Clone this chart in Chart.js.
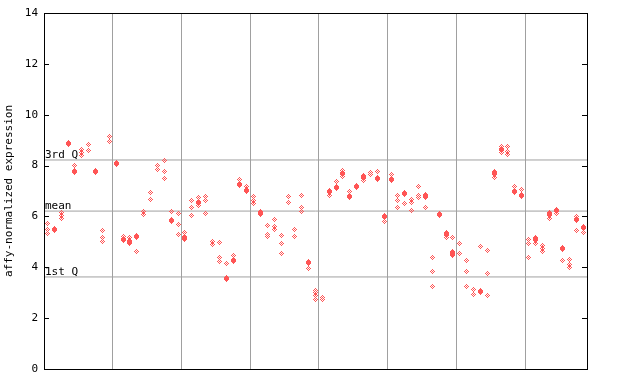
<!DOCTYPE html>
<html>
<head>
<meta charset="utf-8">
<script src="https://cdn.jsdelivr.net/npm/chart.js@4/dist/chart.umd.min.js"></script>
<style>
  body { margin: 0; background: #fff; }
</style>
</head>
<body>
<canvas id="chart" width="640" height="384"></canvas>
<script>
// one entry per sample column (79 columns, split in groups of ten)
const openValues = [
  [5.71, 5.48, 5.32], [], [6.16, 6.03, 5.90], [], [8.0], [8.65, 8.52, 8.39], [8.81, 8.60], [], [5.43, 5.16, 5.0], [9.15, 8.96],
  [], [5.2], [5.19, 4.95], [4.61], [6.21, 6.08], [6.95, 6.68], [8.02, 7.86], [8.18, 7.78, 7.51], [6.21], [6.1, 5.70, 5.27],
  [5.35, 5.11], [6.64, 6.34, 6.05], [6.73, 6.42], [6.78, 6.61, 6.1], [5.01, 4.88], [4.99, 4.38, 4.21], [4.13], [4.48], [7.47], [7.17],
  [6.78, 6.64, 6.51], [6.19], [5.64, 5.28, 5.2], [5.87, 5.59, 5.5], [5.24, 4.92, 4.53], [6.78, 6.55], [5.5, 5.2], [6.81, 6.37, 6.21], [3.96], [3.09, 2.99, 2.88, 2.72],
  [2.8, 2.75], [6.84], [7.39], [7.8, 7.57], [7.0], [], [7.62, 7.4], [7.71, 7.63], [7.76], [5.82],
  [7.63], [6.84, 6.63, 6.37], [6.5], [6.68, 6.53, 6.24], [7.16, 6.84, 6.74], [6.87, 6.37], [4.4, 3.85, 3.25], [], [5.35, 5.16], [5.19, 4.64, 4.45],
  [4.95, 4.56], [4.25, 3.85, 3.25], [3.14, 2.94], [4.8], [4.67, 3.77, 2.91], [7.78, 7.55], [8.75, 8.52], [8.75, 8.57, 8.44], [7.16], [7.05],
  [5.11, 4.93, 4.38], [5.16, 4.95], [4.85, 4.74, 4.64], [6.16, 5.9], [6.13], [4.25], [4.32, 4.09, 3.98], [5.98, 5.43], [5.35]
];
const filledValues = [
  null, 5.49, null, 8.86, 7.76, null, null, 7.76, null, null,
  8.08, 5.1, 5.02, 5.22, null, null, null, null, 5.85, null,
  5.19, null, 6.55, null, null, null, 3.56, 4.26, 7.26, 7.02,
  null, 6.1, null, null, null, null, null, null, 4.19, null,
  null, 6.97, 7.13, 7.7, 6.79, 7.18, 7.52, null, 7.5, 6.0,
  7.44, null, 6.89, null, null, 6.79, null, 6.08, 5.27, 4.56,
  null, null, null, 3.03, null, 7.68, 8.65, null, 6.97, 6.82,
  null, 5.08, null, 6.08, 6.24, 4.74, null, 5.87, 5.56
];
const groupEdges = [9.5, 19.5, 29.5, 39.5, 49.5, 59.5, 69.5];
const yTicks = [0, 2, 4, 6, 8, 10, 12, 14];
const quartileLabels = ['3rd Q', 'mean', '1st Q'];
const quartileValues = [8.22, 6.21, 3.62];

const red = 'rgb(255,85,85)';
const monoFont = { family: 'DejaVu Sans Mono', size: 11 };

function makeMarker(size, test) {
  const c = document.createElement('canvas');
  c.width = size; c.height = size;
  const g = c.getContext('2d');
  g.fillStyle = red;
  const h = (size - 1) / 2;
  for (let y = 0; y < size; y++) {
    for (let x = 0; x < size; x++) {
      if (test(x - h, y - h)) g.fillRect(x, y, 1, 1);
    }
  }
  return c;
}
const openMarker = makeMarker(5, (dx, dy) => Math.abs(dx) + Math.abs(dy) <= 2 && (dx + dy) % 2 === 0);
// 5 wide, 7 tall solid diamond
const filledMarker = makeMarker(7, (dx, dy) => {
  const ax = Math.abs(dx), ay = Math.abs(dy);
  return ax <= 2 && ay <= 3 && ax + ay <= 3;
});

const openPoints = [];
openValues.forEach((vals, i) => vals.forEach(v => openPoints.push({ x: i, y: v })));
const filledPoints = [];
filledValues.forEach((v, i) => { if (v !== null) filledPoints.push({ x: i, y: v }); });

const quartileSets = quartileValues.map(v => ({
  type: 'line',
  data: [{ x: -0.5, y: v }, { x: openValues.length - 0.5, y: v }],
  borderColor: '#a0a0a0',
  borderWidth: 1,
  pointRadius: 0,
  order: 3
}));

const framePlugin = {
  id: 'frame',
  beforeDraw(chart) {
    chart.ctx.imageSmoothingEnabled = false;
  },
  beforeDatasetsDraw(chart) {
    const ctx = chart.ctx;
    const area = chart.chartArea;
    const y = chart.scales.y;
    ctx.save();
    ctx.fillStyle = '#000';
    ctx.font = '11px "DejaVu Sans Mono"';
    ctx.textBaseline = 'alphabetic';
    ctx.textAlign = 'left';
    quartileLabels.forEach((t, i) => {
      ctx.fillText(t, area.left + 1, Math.round(y.getPixelForValue(quartileValues[i])) - 2);
    });
    ctx.restore();
  },
  afterDraw(chart) {
    const ctx = chart.ctx;
    const area = chart.chartArea;
    const y = chart.scales.y;
    ctx.save();
    ctx.strokeStyle = '#000';
    ctx.lineWidth = 1;
    ctx.strokeRect(Math.round(area.left) + 0.5, Math.round(area.top) + 0.5,
      Math.round(area.right - area.left), Math.round(area.bottom - area.top));
    ctx.beginPath();
    yTicks.forEach(v => {
      const py = Math.round(y.getPixelForValue(v)) + 0.5;
      ctx.moveTo(area.left, py); ctx.lineTo(area.left + 5, py);
      ctx.moveTo(area.right - 5, py); ctx.lineTo(area.right, py);
    });
    ctx.stroke();
    ctx.restore();
  }
};

new Chart(document.getElementById('chart'), {
  type: 'scatter',
  data: {
    datasets: [
      ...quartileSets,
      { data: openPoints, pointStyle: openMarker, pointRadius: 3, order: 2 },
      { data: filledPoints, pointStyle: filledMarker, pointRadius: 3, order: 1 }
    ]
  },
  options: {
    responsive: false,
    animation: false,
    layout: { padding: { top: 13, right: 53, left: 0, bottom: 0 } },
    plugins: { legend: { display: false }, tooltip: { enabled: false } },
    scales: {
      x: {
        type: 'linear',
        min: -0.5,
        max: openValues.length - 0.5,
        afterBuildTicks: s => { s.ticks = groupEdges.map(v => ({ value: v })); },
        afterFit: s => { s.height = 15; },
        ticks: { display: false },
        grid: { color: '#a0a0a0', drawTicks: false },
        border: { color: '#000' }
      },
      y: {
        min: 0,
        max: 14,
        afterBuildTicks: s => { s.ticks = yTicks.map(v => ({ value: v })); },
        afterFit: s => { s.width = 44; },
        ticks: { color: '#000', font: monoFont, padding: 6 },
        grid: { display: false, drawTicks: false },
        border: { color: '#000' },
        title: {
          display: true,
          text: 'affy-normalized expression',
          color: '#000',
          font: monoFont,
          padding: { top: 3, bottom: 0 }
        }
      }
    }
  },
  plugins: [framePlugin]
});
</script>
</body>
</html>
